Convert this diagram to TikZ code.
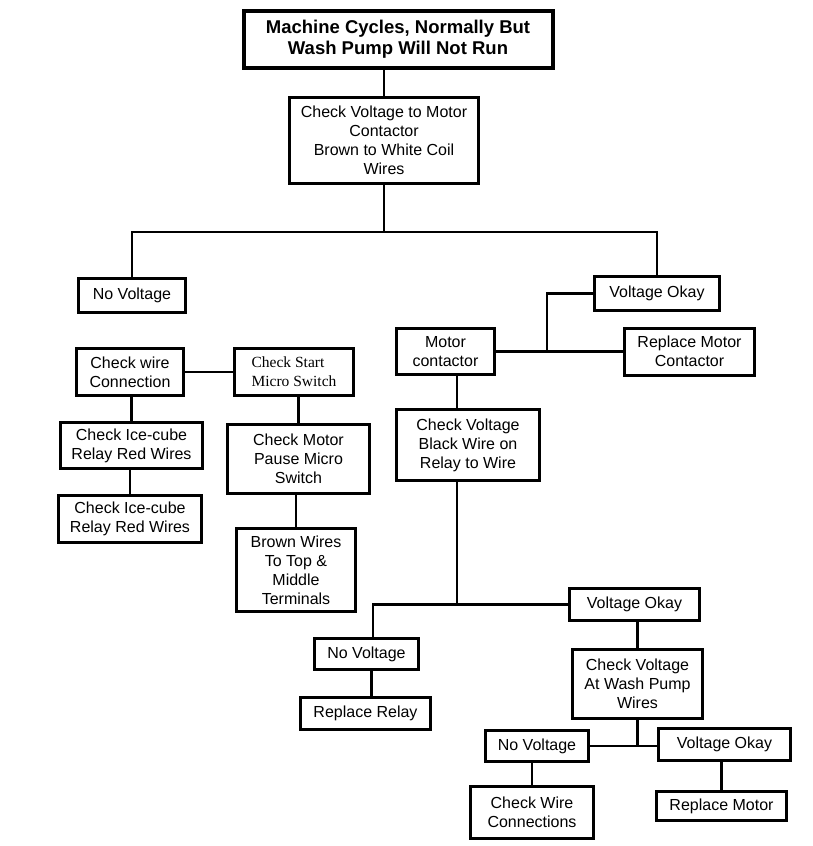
\documentclass[tikz,border=0pt]{standalone}
\usepackage{fontspec}
\setmainfont{Liberation Sans}
\newfontfamily\timesfont{Liberation Serif}
\usetikzlibrary{positioning,calc}

\begin{document}
\begin{tikzpicture}[
        block/.style={rectangle, draw, line width=3pt, align=center, inner sep=2pt,
            font=\fontsize{16}{19}\selectfont},
        headbox/.style={block, line width=4pt, font=\fontsize{18.5}{21}\selectfont\bfseries},
        wire/.style={line width=2.5pt}]
        \useasboundingbox (0,0) rectangle (813pt,-846pt);

        % top of the chart
        \node[headbox, minimum width=309pt, minimum height=57pt] (title) at (398pt,-39.5pt) {Machine Cycles, Normally But\\Wash Pump Will Not Run};
        \node[block, minimum width=189pt, minimum height=86pt, below=26pt of title, xshift=-14pt] (cv) {Check Voltage to Motor\\Contactor\\Brown to White Coil\\Wires};
        \node[block, minimum width=107pt, minimum height=34pt, below=92pt of cv, xshift=-252pt] (nvone) {No Voltage};
        \node[block, minimum width=125pt, minimum height=34pt, below=90pt of cv, xshift=273pt] (voone) {Voltage Okay};

        % left branch
        \node[block, minimum width=107pt, minimum height=47pt, below=33pt of nvone, xshift=-2pt] (cwire) {Check wire\\Connection};
        \node[block, minimum width=119pt, minimum height=47pt, right=48pt of cwire, align=left, font=\fontsize{15.5}{19}\timesfont] (csm) {Check Start\\Micro Switch};
        \node[block, minimum width=142pt, minimum height=46pt, below=24pt of cwire, xshift=1.5pt] (iceone) {Check Ice-cube\\Relay Red Wires};
        \node[block, minimum width=143pt, minimum height=47pt, below=24pt of iceone, xshift=-1.5pt] (icetwo) {Check Ice-cube\\Relay Red Wires};
        \node[block, minimum width=142pt, minimum height=69pt, below=26pt of csm, xshift=4.5pt] (cmp) {Check Motor\\Pause Micro\\Switch};
        \node[block, minimum width=119pt, minimum height=83pt, below=32pt of cmp, xshift=-2.5pt] (bw) {Brown Wires\\To Top \&\\Middle\\Terminals};

        % right branch
        \node[block, minimum width=98pt, minimum height=46pt, below=15pt of voone, xshift=-211.5pt] (mc) {Motor\\contactor};
        \node[block, minimum width=130pt, minimum height=47pt, right=127pt of mc] (rmc) {Replace Motor\\Contactor};
        \node[block, minimum width=143pt, minimum height=71pt, below=32pt of mc, xshift=22.5pt] (cvb) {Check Voltage\\Black Wire on\\Relay to Wire};
        \node[block, minimum width=130pt, minimum height=32pt, below=105pt of cvb, xshift=166.5pt] (votwo) {Voltage Okay};
        \node[block, minimum width=104pt, minimum height=31pt, below=15pt of votwo, xshift=-268pt] (nvtwo) {No Voltage};
        \node[block, minimum width=130pt, minimum height=32pt, below=25pt of nvtwo, xshift=-1pt] (rr) {Replace Relay};
        \node[block, minimum width=130pt, minimum height=69pt, below=26pt of votwo, xshift=3pt] (cvw) {Check Voltage\\At Wash Pump\\Wires};
        \node[block, minimum width=103pt, minimum height=31pt, below=9pt of cvw, xshift=-100.5pt] (nvthree) {No Voltage};
        \node[block, minimum width=132pt, minimum height=32pt, right=67pt of nvthree, yshift=1.5pt] (vothree) {Voltage Okay};
        \node[block, minimum width=123pt, minimum height=52pt, below=22pt of nvthree, xshift=-5pt] (cwc) {Check Wire\\Connections};
        \node[block, minimum width=130pt, minimum height=29pt, below=28pt of vothree, xshift=-3pt] (rm) {Replace Motor};

        % connectors
        \draw[wire] (cv.north) -- (cv.north |- title.south);
        \draw[wire] (cv.south) -- ++(0,-47pt) coordinate (split);
        \draw[wire] (nvone.north) |- (split) -| (voone.north);
        \draw[wire] (mc.east) -- (rmc.west |- mc.east);
        \coordinate (mcjoin) at ($(mc.east)!0.4!(rmc.west |- mc.east)$);
        \draw[wire] (voone.west) -| (mcjoin);
        \draw[wire] ([xshift=11.5pt]mc.south) -- ([xshift=11.5pt]mc.south |- cvb.north);
        \draw[wire] ([xshift=-11pt]cvb.south) -- ([xshift=-11pt]cvb.south |- votwo.west);
        \draw[wire] ([xshift=6.5pt]nvtwo.north) |- (votwo.west);
        \draw[wire] ([xshift=5pt]nvtwo.south) -- ([xshift=5pt]nvtwo.south |- rr.north);
        \draw[wire] (cvw.north) -- (cvw.north |- votwo.south);
        \draw[wire] (nvthree.east) -- (nvthree.east -| vothree.west);
        \draw[wire] (cvw.south) -- (cvw.south |- nvthree.east);
        \draw[wire] (cwc.north) -- (cwc.north |- nvthree.south);
        \draw[wire] (rm.north) -- (rm.north |- vothree.south);

        \draw[wire] (cwire) -- (csm);
        \draw[wire] (iceone.north) -- (iceone.north |- cwire.south);
        \draw[wire] (icetwo.north) -- (icetwo.north |- iceone.south);
        \draw[wire] (cmp.north) -- (cmp.north |- csm.south);
        \draw[wire] (bw.north) -- (bw.north |- cmp.south);

    \end{tikzpicture}
\end{document}
